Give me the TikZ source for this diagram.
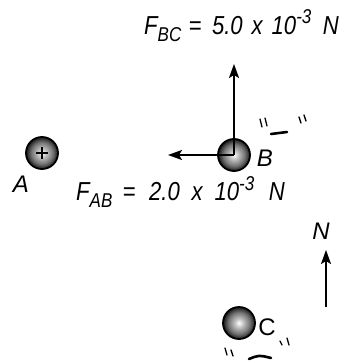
\documentclass[tikz,border=0pt]{standalone}
\usepackage{fontspec}
\setmainfont{Liberation Sans}
\usetikzlibrary{arrows.meta}
\newcommand{\sbs}[1]{\raisebox{-7pt}{\fontsize{20}{20}\selectfont #1}}
\newcommand{\sps}[1]{\raisebox{10pt}{\fontsize{20}{20}\selectfont #1}}
% #1 subscript, #2 number, #3 extra gap
\newcommand{\eqtext}[3]{\scalebox{0.85}[1]{F\sbs{#1}\hspace{\dimexpr8pt+#3\relax}=\hspace{\dimexpr12pt+#3\relax}#2\hspace{\dimexpr10pt+#3\relax}x\hspace{\dimexpr10pt+#3\relax}10\sps{-3}\hspace{\dimexpr13pt+#3\relax}N}}
\pgfdeclareradialshading{ballshade}{\pgfpoint{0pt}{0pt}}{%
  color(0pt)=(white); color(7pt)=(black!25); color(17pt)=(black!55); color(25pt)=(black!90)}
\begin{document}
\begin{tikzpicture}[x=1pt,y=-1pt,
  ball/.style={circle,draw=black,line width=1.8pt,minimum size=32pt,inner sep=0pt,
    shading=ballshade},
  force/.style={line width=1.8pt,-{Stealth[length=14pt,width=10pt,inset=3pt]}},
  lbl/.style={inner sep=0pt,font=\fontsize{24}{28}\selectfont\itshape},
  eq/.style={inner sep=0pt,anchor=base west,font=\fontsize{26}{30}\selectfont\itshape},
  tick/.style={line width=1.3pt,line cap=round},
  dashmk/.style={line width=2.6pt,line cap=round}]
\useasboundingbox (0,0) rectangle (345,364);
% balls
\node[ball] (A) at (42,153) {};
\node[ball] (B) at (234,155) {};
\node[ball] (C) at (239,323) {};
\draw[line width=1.2pt] ([xshift=-6pt]A.center) -- ([xshift=6pt]A.center)
  ([yshift=-6pt]A.center) -- ([yshift=6pt]A.center);
% labels
\node[lbl] (la) at (21,184) {A};
\node[lbl] (lb) at (265,158) {B};
\node[lbl,font=\fontsize{24}{28}\selectfont] (lc) at (267,327) {C};
% forces
\coordinate (Ftip) at (234,64);
\coordinate (Ltip) at (168,153);
\draw[force] (B.center) -- (Ftip);
\draw[force] (B.center) -- (Ltip |- B.center);
\node[eq] (fbc) at (144,34) {\eqtext{BC}{5.0}{0.5pt}};
\node[eq] (fab) at (76,200) {\eqtext{AB}{2.0}{4pt}};
% north
\node[lbl] (N) at (321,231) {N};
\coordinate (Nbot) at (326,307);
\coordinate (Ntip) at (326,250);
\draw[force] (Nbot) -- (Ntip);
% charge marks near B
\draw[tick] (260,119) -- (262,127) (265,118) -- (267,126);
\draw[dashmk] (271,134) -- (287,132);
\draw[tick] (299,117) -- (301,123) (304,115) -- (306,121);
% charge marks near C
\draw[tick] (225,348) -- (227,355) (231,350) -- (233,356);
\draw[dashmk] (249,359) .. controls (259,355) .. (271,358);
\draw[tick] (280,341) -- (282,345) (287,338) -- (289,345);
\end{tikzpicture}
\end{document}
